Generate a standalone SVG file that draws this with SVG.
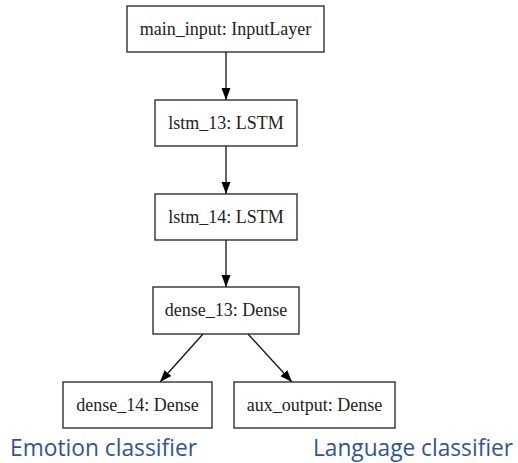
<svg xmlns="http://www.w3.org/2000/svg" width="518" height="463" viewBox="0 0 518 463">
<defs>
<marker id="ah" viewBox="0 0 12 12" refX="12" refY="6" markerWidth="12" markerHeight="12" markerUnits="userSpaceOnUse" orient="auto">
<path d="M0,1.5 L12,6 L0,10.5 Z" fill="#000"/>
</marker>
</defs>
<style>
.box{fill:#fff;stroke:#222;stroke-width:1.3}
.lbl{font-family:"Liberation Serif","Times New Roman",serif;font-size:18px;fill:#222;text-anchor:middle}
.edge{stroke:#111;stroke-width:1.3;fill:none;marker-end:url(#ah)}
.cap{font-family:"Open Sans","Noto Sans",sans-serif;font-size:23px;fill:#2F5597}
</style>
<rect width="518" height="463" fill="#fff"/>
<g id="connectors">
<line class="edge" x1="226" y1="52" x2="226" y2="100"/>
<line class="edge" x1="226" y1="146" x2="226" y2="194"/>
<line class="edge" x1="226" y1="240" x2="226" y2="287"/>
<line class="edge" x1="203" y1="334" x2="160" y2="382"/>
<line class="edge" x1="248" y1="334" x2="292" y2="382"/>
</g>
<g id="main_input">
<rect class="box" x="127" y="6" width="197" height="46"/>
<text class="lbl" x="225.5" y="35">main_input: InputLayer</text>
</g>
<g id="lstm_13">
<rect class="box" x="155" y="100" width="142" height="46"/>
<text class="lbl" x="226" y="129">lstm_13: LSTM</text>
</g>
<g id="lstm_14">
<rect class="box" x="155" y="194" width="142" height="46"/>
<text class="lbl" x="226" y="223">lstm_14: LSTM</text>
</g>
<g id="dense_13">
<rect class="box" x="153" y="287" width="146" height="47"/>
<text class="lbl" x="226" y="316">dense_13: Dense</text>
</g>
<g id="dense_14">
<rect class="box" x="63" y="382" width="149" height="46"/>
<text class="lbl" x="137.5" y="411">dense_14: Dense</text>
</g>
<g id="aux_output">
<rect class="box" x="234" y="382" width="161" height="46"/>
<text class="lbl" x="314.5" y="411">aux_output: Dense</text>
</g>
<text class="cap" x="10" y="456" textLength="187" lengthAdjust="spacingAndGlyphs">Emotion classifier</text>
<text class="cap" x="313" y="456" textLength="200" lengthAdjust="spacingAndGlyphs">Language classifier</text>
</svg>
